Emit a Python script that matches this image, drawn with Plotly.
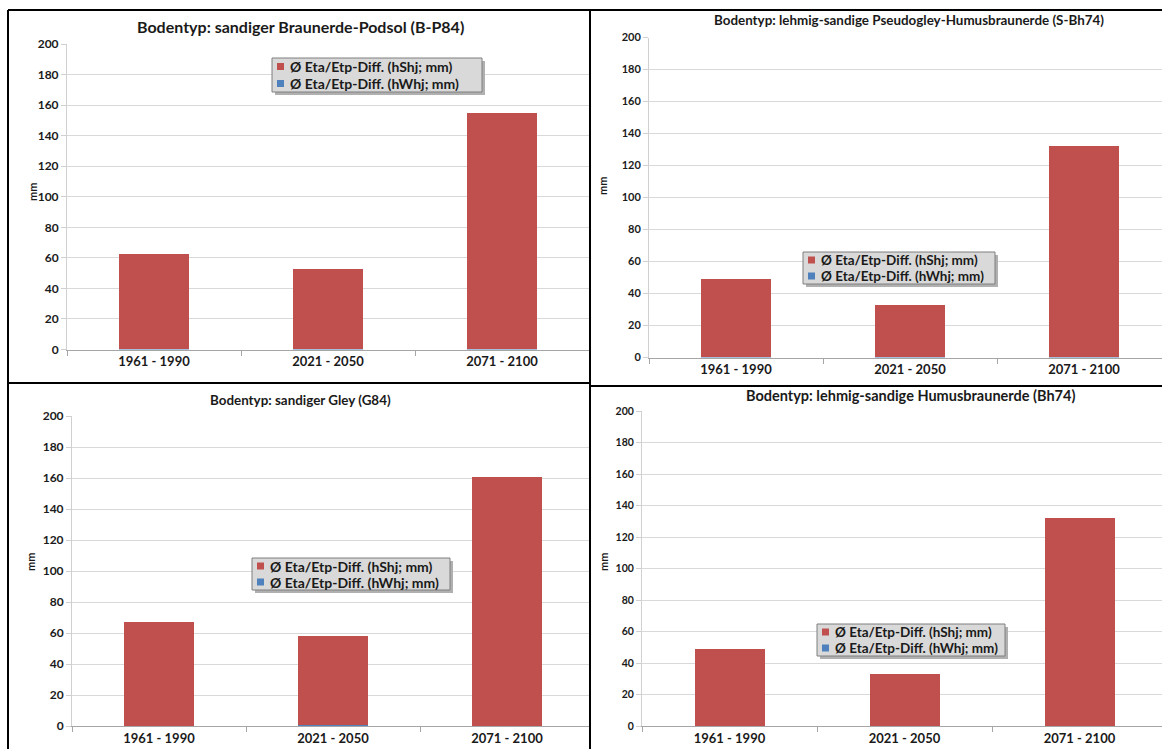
import plotly.graph_objects as go

W, H = 1162, 749

categories = ["1961 - 1990", "2021 - 2050", "2071 - 2100"]
series_names = ["Ø Eta/Etp-Diff. (hShj; mm)", "Ø Eta/Etp-Diff. (hWhj; mm)"]

titles = [
    "Bodentyp: sandiger Braunerde-Podsol (B-P84)",
    "Bodentyp: lehmig-sandige Pseudogley-Humusbraunerde (S-Bh74)",
    "Bodentyp: sandiger Gley (G84)",
    "Bodentyp: lehmig-sandige Humusbraunerde (Bh74)",
]

# red series (hShj) per panel
hShj_bp84 = [62, 52.5, 154.5]
hShj_sbh74 = [49, 32.5, 132]
hShj_g84 = [66.5, 57.5, 160.5]
hShj_bh74 = [49, 33, 132]

# blue series (hWhj) per panel (tiny values at bar base)
hWhj_bp84 = [0.3, 0.4, 0.4]
hWhj_sbh74 = [0.2, 0.2, 0.2]
hWhj_g84 = [0.3, 0.7, 0.3]
hWhj_bh74 = [0.2, 0.3, 0.2]

y_ticks = [0, 20, 40, 60, 80, 100, 120, 140, 160, 180, 200]

RED = "#c0504d"
BLUE = "#4f81bd"
FONT = "Lato"
TXT = "#1a1a1a"

red_series = [hShj_bp84, hShj_sbh74, hShj_g84, hShj_bh74]
blue_series = [hWhj_bp84, hWhj_sbh74, hWhj_g84, hWhj_bh74]

# panel geometry in pixels: (axis left, right bound, y of 0, y of 200, category width)
panels = [
    (67, 590, 349.5, 44, 174),
    (649, 1162, 357.5, 37.5, 174),
    (72, 590, 726, 416, 174),
    (642, 1162, 726, 411, 175),
]
ytick_size = [12, 11, 12, 10.5]
xtick_size = [13, 13, 13, 13]
# title centers (px) and size
title_pos = [(300, 27, 16), (909, 20, 13.4), (300, 400, 13.4), (910, 395, 14.5)]
mm_pos = [(33, 192), (603, 186), (30, 562), (603, 562)]
# legend boxes (left, top, right, bottom) and font size
legend_box = [(272, 58, 482, 92, 14), (803, 252, 995, 284, 13.5),
              (252, 558, 450, 590, 14), (817, 624, 1005, 656, 13.5)]

fig = go.Figure()


def px(x):
    return x / W


def py(y):
    return 1 - y / H


for i in range(4):
    ax = "" if i == 0 else str(i + 1)
    fig.add_trace(go.Bar(
        x=categories, y=blue_series[i], name=series_names[1],
        marker=dict(color=BLUE, line=dict(width=0)), width=0.4,
        xaxis="x" + ax, yaxis="y" + ax, showlegend=False,
    ))
    fig.add_trace(go.Bar(
        x=categories, y=red_series[i], name=series_names[0],
        marker=dict(color=RED, line=dict(width=0)), width=0.4,
        xaxis="x" + ax, yaxis="y" + ax, showlegend=False,
    ))

layout = dict(
    width=W, height=H,
    margin=dict(l=0, r=0, t=0, b=0, pad=0, autoexpand=False),
    paper_bgcolor="white", plot_bgcolor="white",
    barmode="stack", showlegend=False,
    font=dict(family=FONT, color=TXT),
)

shapes = []
annotations = []
for i, (left, right, y0, y200, cw) in enumerate(panels):
    ax = "" if i == 0 else str(i + 1)
    hi = -0.5 + (right - left) / cw
    layout["xaxis" + ax] = dict(
        domain=[px(left), px(right)], anchor="y" + ax,
        range=[-0.5, hi], type="category", automargin=False,
        showline=True, linecolor="#a6a6a6", linewidth=1,
        ticks="outside", tickson="boundaries", ticklen=5, tickcolor="#a6a6a6",
        showgrid=False, zeroline=False,
        tickfont=dict(family=FONT, size=xtick_size[i], color=TXT, weight="bold"),
        fixedrange=True,
    )
    layout["yaxis" + ax] = dict(
        domain=[py(y0), py(y200)], anchor="x" + ax, automargin=False,
        range=[0, 200], tickvals=y_ticks,
        showline=True, linecolor="#d0d0d0", linewidth=1,
        ticks="outside", ticklen=5, tickcolor="#d0d0d0",
        showgrid=True, gridcolor="#d9d9d9", gridwidth=1,
        zeroline=False,
        tickfont=dict(family=FONT, size=ytick_size[i], color=TXT, weight="bold"),
        fixedrange=True,
    )
    tx, ty, ts = title_pos[i]
    annotations.append(dict(
        text=titles[i], x=px(tx), y=py(ty), xref="paper", yref="paper",
        xanchor="center", yanchor="middle", showarrow=False,
        font=dict(family=FONT, size=ts, color=TXT, weight="bold"),
    ))
    mx, my = mm_pos[i]
    annotations.append(dict(
        text="mm", x=px(mx), y=py(my), xref="paper", yref="paper",
        xanchor="center", yanchor="middle", showarrow=False, textangle=-90,
        font=dict(family=FONT, size=11, color=TXT, weight="bold"),
    ))

    # legend drawn as box + swatches + text
    lx0, ly0, lx1, ly1, lfs = legend_box[i]
    shapes.append(dict(
        type="rect", xref="paper", yref="paper",
        x0=px(lx0 + 3), x1=px(lx1 + 3), y0=py(ly1 + 3), y1=py(ly0 + 3),
        fillcolor="#b0b0b0", line=dict(width=0), layer="above",
    ))
    shapes.append(dict(
        type="rect", xref="paper", yref="paper",
        x0=px(lx0), x1=px(lx1), y0=py(ly1), y1=py(ly0),
        fillcolor="#d9d9d9", line=dict(color="#7f7f7f", width=1), layer="above",
    ))
    row_h = (ly1 - ly0) / 2
    for r, (name, col) in enumerate([(series_names[0], RED), (series_names[1], BLUE)]):
        cy = ly0 + row_h * (r + 0.5)
        shapes.append(dict(
            type="rect", xref="paper", yref="paper",
            x0=px(lx0 + 5), x1=px(lx0 + 12), y0=py(cy + 3.5), y1=py(cy - 3.5),
            fillcolor=col, line=dict(width=0), layer="above",
        ))
        annotations.append(dict(
            text=name, x=px(lx0 + 16), y=py(cy), xref="paper", yref="paper",
            xanchor="left", yanchor="middle", showarrow=False,
            font=dict(family=FONT, size=lfs, color=TXT, weight="bold"),
        ))

# panel frame lines
frame = [
    (8, 10, 1162, 10),
    (8, 10, 8, 749),
    (590, 10, 590, 749),
    (8, 383, 590, 383),
    (590, 386, 1162, 386),
]
for x0, y0, x1, y1 in frame:
    shapes.append(dict(
        type="line", xref="paper", yref="paper",
        x0=px(x0), y0=py(y0), x1=px(x1), y1=py(y1),
        line=dict(color="black", width=2), layer="above",
    ))

layout["shapes"] = shapes
layout["annotations"] = annotations
fig.update_layout(**layout)

fig.write_html(
    "out.html",
    config={"displayModeBar": False},
    post_script="document.body.style.margin='0';document.body.style.overflow='hidden';",
)
